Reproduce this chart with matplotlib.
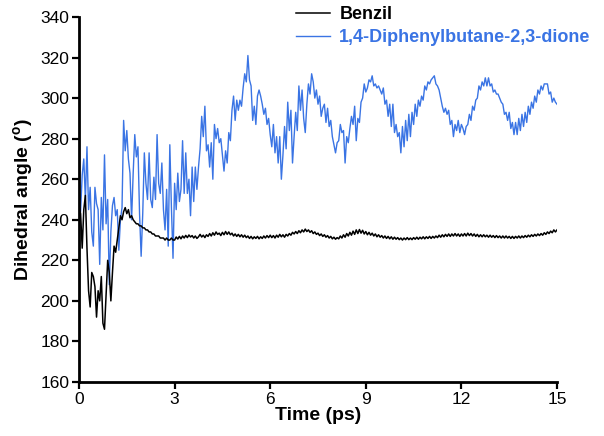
import numpy as np
import matplotlib
matplotlib.use("Agg")
from matplotlib import pyplot as plt

# Dihedral angle (degrees) sampled every 0.05 ps from 0 to 15 ps
benzil = [
    247, 243, 226, 245, 252, 226, 205, 197, 214, 212, 207, 192, 205, 200, 212, 189, 186, 203, 220, 214,
    200, 214, 227, 224, 230, 236, 242, 240, 244, 246, 243, 245, 241, 242, 240, 239, 238, 238, 237, 237,
    236, 236, 235, 235, 234, 234, 233, 233, 232, 232, 232, 231, 231, 231, 230, 231, 230, 230, 231, 230,
    230, 231.5, 230.5, 231.8, 230.6, 232, 231, 232.3, 231.2, 232.5, 231.5, 232.2, 231, 232, 230.8, 231.6,
    232.8, 231.5, 232.4, 231.2, 232.6, 231.8, 233.2, 232, 233.6, 232.4, 234, 232.8, 233.4, 232.2, 233.8,
    232.6, 234.2, 232.8, 234, 232.6, 233.4, 232, 233, 231.8, 232.8, 231.6, 232.6, 231.4, 232.4, 231.2,
    232, 230.8, 231.8, 230.6, 231.6, 230.8, 231.8, 230.6, 231.6, 230.8, 232, 231, 232.2, 231.2, 232.4,
    231.2, 232.2, 231, 232.4, 231.4, 232.8, 231.6, 232.6, 231.4, 232.8, 232, 233.2, 232.4, 233.8, 233,
    234.2, 233.2, 234.6, 233.6, 235, 234, 235.4, 234.2, 235, 233.8, 234.6, 233.2, 234, 232.8, 233.4,
    232.2, 233, 231.8, 232.6, 231.4, 232.2, 231, 231.8, 230.6, 231.4, 230.4, 231.2, 230.6, 232, 231,
    232.6, 231.4, 233.2, 232, 233.8, 232.4, 234.4, 232.8, 235, 233.2, 235.2, 233.4, 234.8, 233, 234.2,
    232.6, 233.8, 232.4, 233.4, 232, 233, 231.6, 232.6, 231.4, 232.2, 231, 232, 230.8, 231.8, 230.6,
    231.6, 230.4, 231.4, 230.4, 231.2, 230.2, 231, 230, 231, 230.2, 231.2, 230.2, 231, 230.2, 231.2,
    230.4, 231.4, 230.4, 231.4, 230.6, 231.6, 230.6, 231.6, 230.8, 231.8, 230.8, 231.8, 231, 232, 231.2,
    232.4, 231.4, 232.6, 231.6, 232.8, 231.8, 233, 231.8, 233, 232, 233.2, 232, 233, 231.8, 233, 232,
    233.2, 232, 233.4, 232.2, 233.2, 232, 233, 231.8, 232.8, 231.6, 232.6, 231.6, 232.6, 231.6, 232.4,
    231.4, 232.4, 231.4, 232.2, 231.2, 232.2, 231.2, 232, 231, 232, 231, 232, 231, 231.8, 230.8, 231.8,
    230.8, 231.8, 231, 232, 231, 232, 231.2, 232.2, 231.4, 232.4, 231.6, 232.6, 231.8, 232.8, 232, 233,
    232.2, 233.2, 232.4, 233.6, 232.8, 234, 233.2, 234.4, 233.6, 235, 234, 235,
]

diphenylbutanedione = [
    256, 244, 262, 270, 250, 276, 245, 256, 234, 227, 256, 248, 245, 218, 251, 235, 272, 238, 250, 208,
    234, 247, 251, 242, 245, 225, 240, 246, 289, 274, 284, 270, 263, 240, 263, 282, 271, 276, 243, 222,
    243, 273, 258, 250, 273, 250, 246, 261, 250, 282, 258, 253, 268, 245, 235, 255, 227, 277, 246, 221,
    258, 245, 263, 249, 255, 279, 253, 273, 253, 260, 242, 266, 249, 266, 255, 266, 275, 291, 281, 296,
    274, 277, 266, 278, 260, 287, 280, 285, 278, 280, 272, 264, 274, 268, 283, 279, 294, 301, 289, 299,
    294, 299, 296, 305, 312, 308, 321, 309, 306, 289, 296, 287, 301, 304, 301, 297, 292, 295, 287, 290,
    282, 276, 287, 273, 281, 268, 281, 260, 272, 286, 275, 298, 284, 294, 268, 281, 293, 284, 306, 294,
    304, 290, 283, 297, 307, 302, 312, 308, 300, 304, 297, 301, 291, 295, 297, 288, 295, 286, 289, 281,
    277, 273, 278, 279, 287, 283, 284, 268, 281, 278, 285, 291, 287, 296, 279, 290, 288, 298, 300, 307,
    303, 305, 309, 308, 311, 306, 307, 305, 306, 304, 302, 305, 297, 299, 291, 297, 286, 297, 283, 287,
    281, 283, 273, 286, 276, 289, 279, 292, 281, 293, 287, 297, 291, 299, 296, 301, 299, 306, 304, 308,
    307, 309, 310, 311, 307, 306, 304, 300, 296, 293, 295, 292, 294, 287, 289, 281, 287, 284, 289, 283,
    287, 285, 282, 286, 287, 292, 289, 296, 294, 299, 300, 306, 304, 308, 306, 310, 306, 310, 306, 307,
    303, 304, 302, 302, 300, 298, 297, 292, 293, 289, 293, 285, 288, 282, 288, 282, 290, 284, 292, 286,
    293, 288, 296, 292, 298, 295, 301, 298, 304, 302, 306, 304, 307, 307, 307, 302, 303, 298, 300, 298,
    297,
]

xticks = [0, 3, 6, 9, 12, 15]
yticks = [160, 180, 200, 220, 240, 260, 280, 300, 320, 340]

plt.rcParams["font.family"] = ["Liberation Sans", "DejaVu Sans"]
plt.rcParams["mathtext.fontset"] = "custom"
plt.rcParams["mathtext.rm"] = "Liberation Sans"
plt.rcParams["mathtext.bf"] = "Liberation Sans:bold"

blue = "#3a74e4"

fig = plt.figure(figsize=(6.04, 4.36), dpi=100)
ax = fig.add_axes([0.1308, 0.1239, 0.7914, 0.8371])

t_black = np.linspace(0, 15, len(benzil))
t_blue = np.linspace(0, 15, len(diphenylbutanedione))

l2, = ax.plot(t_blue, diphenylbutanedione, color=blue, lw=1.0)
l1, = ax.plot(t_black, benzil, color="black", lw=1.1)

ax.set_xlim(0, 15)
ax.set_ylim(160, 340)
ax.set_xticks(xticks)
ax.set_yticks(yticks)
ax.tick_params(direction="out", length=5, width=1.6, labelsize=12.5, pad=2)

for side in ["top", "right"]:
    ax.spines[side].set_visible(False)
for side in ["left", "bottom"]:
    ax.spines[side].set_linewidth(2)

ax.set_xlabel("Time (ps)", fontsize=14, fontweight="bold", labelpad=0)
ax.set_ylabel(r"Dihedral angle ($\mathbf{^o}$)", fontsize=14, fontweight="bold", labelpad=4)

leg = fig.legend([l1, l2], ["Benzil", "1,4-Diphenylbutane-2,3-dione"],
                 loc="upper left", bbox_to_anchor=(0.472, 1.01), frameon=False,
                 fontsize=13, handlelength=1.9, handletextpad=0.5, labelspacing=0.3,
                 borderaxespad=0.2)
for txt, col in zip(leg.get_texts(), ["black", blue]):
    txt.set_color(col)
    txt.set_fontweight("bold")

fig.savefig("out.png", dpi=100)
